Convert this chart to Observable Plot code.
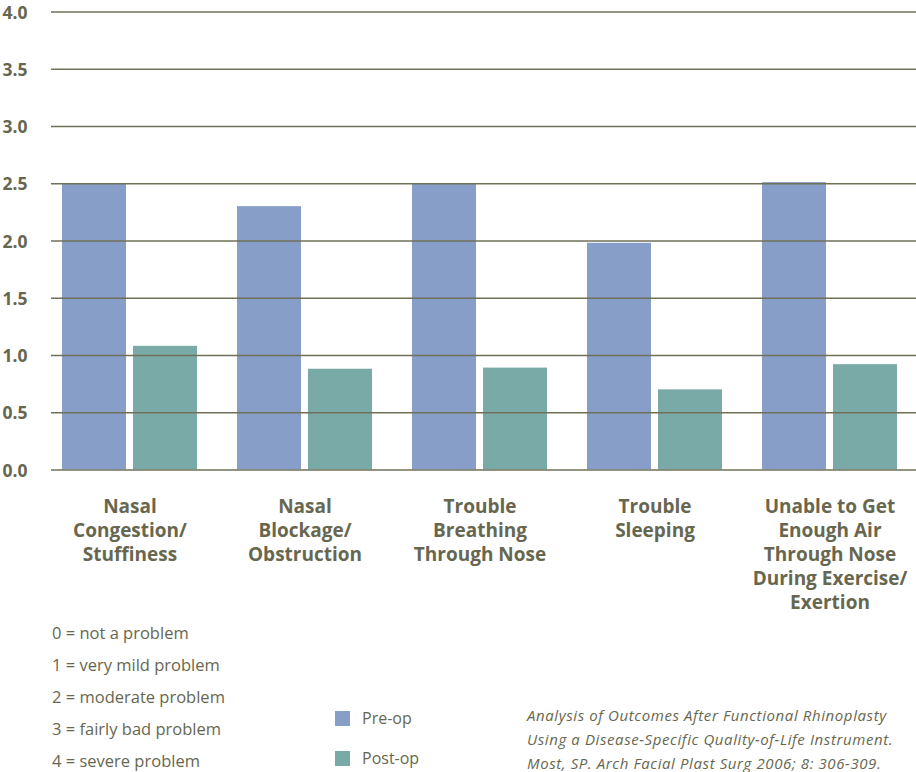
<!DOCTYPE html>
<html>
<head>
<meta charset="utf-8">
<script src="https://cdn.jsdelivr.net/npm/d3@7"></script>
<script src="https://cdn.jsdelivr.net/npm/@observablehq/plot@0.6"></script>
<style>
  body { margin: 0; background: #fff; }
  #wrap { position: relative; width: 916px; height: 772px; font-family: "Open Sans", Lato, sans-serif; color: #67674f; }
  .scale { position: absolute; left: 52px; font-size: 16.5px; line-height: 32px; top: 617px; }
  .leg { position: absolute; left: 335px; top: 0; font-size: 16px; }
  .leg div { position: absolute; white-space: nowrap; line-height: 20px; }
  .sw { display: inline-block; width: 15px; height: 15px; vertical-align: -2px; margin-right: 12px; }
  .cite { position: absolute; left: 527px; top: 703px; font-size: 15px; letter-spacing: 0.6px; font-style: italic; line-height: 24px; white-space: nowrap; }
</style>
</head>
<body>
<div id="wrap">
  <div id="chart"></div>
  <div class="scale" id="scale"></div>
  <div class="leg" id="leg"></div>
  <div class="cite" id="cite"></div>
</div>
<script>
const categories = [
  "Nasal\nCongestion/\nStuffiness",
  "Nasal\nBlockage/\nObstruction",
  "Trouble\nBreathing\nThrough Nose",
  "Trouble\nSleeping",
  "Unable to Get\nEnough Air\nThrough Nose\nDuring Exercise/\nExertion"
];
const preOp = [2.5, 2.3, 2.5, 1.98, 2.51];
const postOp = [1.08, 0.88, 0.89, 0.70, 0.92];
const yTicks = [0, 0.5, 1, 1.5, 2, 2.5, 3, 3.5, 4];
const seriesNames = ["Pre-op", "Post-op"];
const seriesColors = ["#879ec9", "#79aaa8"];
const scaleLines = ["0 = not a problem", "1 = very mild problem", "2 = moderate problem", "3 = fairly bad problem", "4 = severe problem"];
const citation = [
  "Analysis of Outcomes After Functional Rhinoplasty",
  "Using a Disease-Specific Quality-of-Life Instrument.",
  "Most, SP. Arch Facial Plast Surg 2006; 8: 306-309."
];

const preData = categories.map((c, i) => ({category: c, value: preOp[i]}));
const postData = categories.map((c, i) => ({category: c, value: postOp[i]}));
const textColor = "#67674f";

const chart = Plot.plot({
  width: 916,
  height: 620,
  marginLeft: 51,
  marginRight: 0,
  marginTop: 11.5,
  marginBottom: 150.5,
  style: {fontFamily: "'Open Sans', Lato, sans-serif", background: "#fff"},
  x: {domain: categories, range: [42, 917], padding: 0, axis: null},
  y: {domain: [0, 4], axis: null},
  marks: [
    Plot.barY(preData, {x: "category", y: "value", fill: seriesColors[0], insetLeft: 20, insetRight: 91}),
    Plot.barY(postData, {x: "category", y: "value", fill: seriesColors[1], insetLeft: 91, insetRight: 20}),
    Plot.ruleY(yTicks, {stroke: "#707058", strokeWidth: 1.7}),
    Plot.text(yTicks, {y: d => d, text: d => d.toFixed(1), frameAnchor: "left", dx: -49, dy: 1, textAnchor: "start",
      fontSize: 17.5, fontWeight: "bold", fill: textColor}),
    Plot.text(categories, {x: d => d, y: 0, text: d => d, lineAnchor: "top", dy: 26, lineHeight: 1.26,
      fontSize: 19, fontWeight: "bold", fill: textColor})
  ]
});
document.getElementById("chart").appendChild(chart);

document.getElementById("scale").innerHTML = scaleLines.map(s => `<div>${s}</div>`).join("");
document.getElementById("leg").innerHTML = seriesNames.map((n, i) =>
  `<div style="top:${708 + i * 40}px"><span class="sw" style="background:${seriesColors[i]}"></span>${n}</div>`).join("");
document.getElementById("cite").innerHTML = citation.map(s => `<div>${s}</div>`).join("");
</script>
</body>
</html>
